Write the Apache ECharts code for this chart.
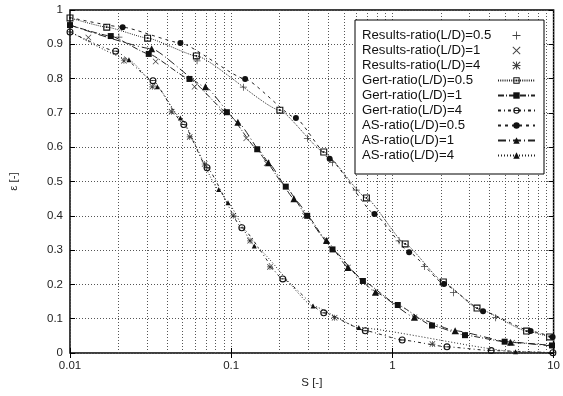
<!DOCTYPE html>
<html>
<head>
<meta charset="utf-8">
<script src="https://cdn.jsdelivr.net/npm/echarts@6/dist/echarts.min.js"></script>
<style>
html, body { margin: 0; padding: 0; background: #fff; }
#chart { width: 563px; height: 396px; }
</style>
</head>
<body>
<div id="chart"></div>
<script>
// Axis ranges and tick values
const xMin = 0.01, xMax = 10;
const minorX = [0.02, 0.03, 0.04, 0.05, 0.06, 0.07, 0.08, 0.09,
                0.2, 0.3, 0.4, 0.5, 0.6, 0.7, 0.8, 0.9,
                2, 3, 4, 5, 6, 7, 8, 9];
const yMin = 0, yMax = 1, yStep = 0.1;

// Measured results, [S, epsilon]
const resultsHalf = [[0.0201, 0.921], [0.0614, 0.852], [0.119, 0.775], [0.297, 0.626], [0.425, 0.555],
                     [0.597, 0.475], [1.10, 0.327], [1.58, 0.252], [2.39, 0.176], [4.37, 0.103]];
const resultsOne = [[0.013, 0.920], [0.034, 0.850], [0.0593, 0.776], [0.0877, 0.703], [0.124, 0.626],
                    [0.166, 0.553], [0.287, 0.400], [0.39, 0.330], [0.53, 0.249], [0.785, 0.177],
                    [1.37, 0.104], [5.53, 0.030]];
const resultsFour = [[0.0216, 0.852], [0.0324, 0.776], [0.0427, 0.703], [0.0553, 0.630], [0.0684, 0.551],
                     [0.103, 0.400], [0.131, 0.327], [0.174, 0.251], [0.438, 0.103], [1.77, 0.026]];

// Gert model curves
const gertHalf = [[0.01, 0.977], [0.0169, 0.950], [0.0303, 0.918], [0.0608, 0.866], [0.2004, 0.708],
                  [0.375, 0.586], [0.69, 0.452], [1.20, 0.318], [2.07, 0.207], [3.35, 0.131],
                  [6.8, 0.064], [9.44, 0.047]];
const gertOne = [[0.01, 0.956], [0.0179, 0.924], [0.0308, 0.872], [0.0551, 0.799], [0.094, 0.702],
                 [0.145, 0.594], [0.218, 0.485], [0.296, 0.400], [0.425, 0.302], [0.656, 0.210],
                 [1.08, 0.140], [1.76, 0.080], [2.82, 0.052], [4.97, 0.033], [9.77, 0.022]];
const gertFour = [[0.01, 0.936], [0.0192, 0.880], [0.0327, 0.794], [0.0508, 0.666], [0.0708, 0.540],
                  [0.1164, 0.365], [0.209, 0.216], [0.375, 0.117], [0.679, 0.065], [1.15, 0.038],
                  [2.18, 0.018], [4.10, 0.007], [9.9, 0.001]];

// AS model curves
const asHalf = [[0.01, 0.978], [0.0212, 0.950], [0.0484, 0.904], [0.122, 0.799], [0.252, 0.685],
                [0.408, 0.566], [0.774, 0.405], [1.27, 0.294], [2.09, 0.201], [3.65, 0.122],
                [7.2, 0.064], [9.86, 0.047]];
const asOne = [[0.01, 0.956], [0.0321, 0.887], [0.0692, 0.776], [0.110, 0.673], [0.170, 0.555],
               [0.245, 0.450], [0.39, 0.328], [0.53, 0.249], [0.785, 0.177], [1.37, 0.104],
               [2.45, 0.065], [5.41, 0.031], [10, 0.020]];
const asFour = [[0.01, 0.937], [0.0232, 0.855], [0.0348, 0.776], [0.0484, 0.685], [0.0836, 0.477],
                [0.0955, 0.438], [0.139, 0.312], [0.322, 0.137], [0.619, 0.074], [5.81, 0.004],
                [10, 0.001]];

const names = [
  'Results-ratio(L/D)=0.5', 'Results-ratio(L/D)=1', 'Results-ratio(L/D)=4',
  'Gert-ratio(L/D)=0.5', 'Gert-ratio(L/D)=1', 'Gert-ratio(L/D)=4',
  'AS-ratio(L/D)=0.5', 'AS-ratio(L/D)=1', 'AS-ratio(L/D)=4'
];

// Marker shapes
const PLUS = 'path://M0,4.45H10V5.55H0Z M4.45,0H5.55V10H4.45Z';
const CROSS = 'path://M0,0.8L0.8,0L10,9.2L9.2,10Z M9.2,0L10,0.8L0.8,10L0,9.2Z';
const STAR = 'path://M0,4.4H10V5.6H0Z M4.4,0H5.6V10H4.4Z M0,0.9L0.9,0L10,9.1L9.1,10Z M9.1,0L10,0.9L0.9,10L0,9.1Z';
const BOXDOT = 'path://M0,0H10V10H0Z M1.6,1.6V8.4H8.4V1.6Z M3.8,3.8H6.2V6.2H3.8Z';
const CIRCBAR = 'path://M0,5A5,5 0 1,1 10,5A5,5 0 1,1 0,5Z M1.5,5A3.5,3.5 0 1,0 8.5,5A3.5,3.5 0 1,0 1.5,5Z M1,4.4H9V5.6H1Z';

const INK = '#111';
const FONT = 'Liberation Sans, Arial, sans-serif';

function scatter(name, data, symbol, size) {
  return {
    name, type: 'scatter', data, symbol, symbolSize: size, symbolKeepAspect: true,
    itemStyle: { color: INK }, z: 4, animation: false
  };
}

// Curve through the points; points sitting on the axis limits only anchor the line
function curve(name, data, symbol, size, dash, hideLimits) {
  return {
    name, type: 'line', symbol, symbolSize: size, symbolKeepAspect: true,
    showAllSymbol: true, smooth: 0.15, smoothMonotone: 'x',
    data: data.map(p => (hideLimits && (p[0] === xMin || p[0] === xMax))
      ? { value: p, symbol: 'none' } : { value: p }),
    lineStyle: { color: '#222', width: 1, type: dash },
    itemStyle: { color: INK }, z: 3, animation: false
  };
}

const dotted = { color: '#555', width: 1, type: [1, 2] };
const axisFont = { fontFamily: FONT, fontSize: 11.5, color: '#222' };

const chart = echarts.init(document.getElementById('chart'), null, { renderer: 'canvas' });

chart.setOption({
  animation: false,
  backgroundColor: '#fff',
  grid: { left: 69, right: 8, top: 10, bottom: 43, show: true, borderColor: '#000', borderWidth: 1.5 },
  xAxis: [{
    type: 'log', logBase: 10, min: xMin, max: xMax,
    name: 'S [-]', nameLocation: 'middle', nameGap: 23,
    nameTextStyle: axisFont,
    axisLine: { show: false },
    axisTick: { show: true, inside: true, length: 5, lineStyle: { color: '#000' } },
    axisLabel: Object.assign({ margin: 7, formatter: v => String(+v.toPrecision(3)) }, axisFont),
    splitLine: { show: true, lineStyle: dotted }
  }, {
    type: 'log', logBase: 10, min: xMin, max: xMax, position: 'top',
    axisLine: { show: false },
    axisTick: { show: true, inside: true, length: 5, lineStyle: { color: '#000' } },
    axisLabel: { show: false }, splitLine: { show: false }
  }],
  yAxis: [{
    type: 'value', min: yMin, max: yMax, interval: yStep,
    name: 'ε [-]', nameLocation: 'middle', nameGap: 50, nameRotate: 90,
    nameTextStyle: axisFont,
    axisLine: { show: false },
    axisTick: { show: true, inside: true, length: 5, lineStyle: { color: '#000' } },
    axisLabel: Object.assign({ margin: 7, formatter: v => String(+v.toFixed(1)) }, axisFont),
    splitLine: { show: true, lineStyle: dotted }
  }, {
    type: 'value', min: yMin, max: yMax, interval: yStep, position: 'right',
    axisLine: { show: false },
    axisTick: { show: true, inside: true, length: 5, lineStyle: { color: '#000' } },
    axisLabel: { show: false }, splitLine: { show: false }
  }],
  legend: {
    data: names,
    orient: 'vertical', left: 355, top: 20,
    align: 'right',
    itemWidth: 37, itemHeight: 8, itemGap: 2,
    padding: [9, 8, 12, 7],
    backgroundColor: '#fff', borderColor: '#000', borderWidth: 1, borderRadius: 0,
    z: 6,
    formatter: n => '{t|' + n + '}',
    textStyle: {
      color: '#111',
      rich: { t: { width: 131, align: 'left', fontSize: 13.2, fontFamily: FONT, color: '#111' } }
    }
  },
  series: [
    scatter(names[0], resultsHalf, PLUS, 7),
    scatter(names[1], resultsOne, CROSS, 6),
    scatter(names[2], resultsFour, STAR, 6),
    curve(names[3], gertHalf, BOXDOT, 7, [1, 1.2], false),
    curve(names[4], gertOne, 'rect', 6, [6, 2, 1, 2], false),
    curve(names[5], gertFour, CIRCBAR, 7, [3, 3, 1, 3], false),
    curve(names[6], asHalf, 'circle', 6, [3, 4], true),
    curve(names[7], asOne, 'triangle', 7, [8, 3, 1, 3], true),
    curve(names[8], asFour, 'triangle', 5, [1, 2], true),
    {
      // minor decade grid lines
      type: 'line', data: [], silent: true, z: 1,
      markLine: {
        silent: true, symbol: 'none', label: { show: false }, z: 1,
        lineStyle: dotted, animation: false,
        data: minorX.map(v => ({ xAxis: v }))
      }
    }
  ]
});
</script>
</body>
</html>
